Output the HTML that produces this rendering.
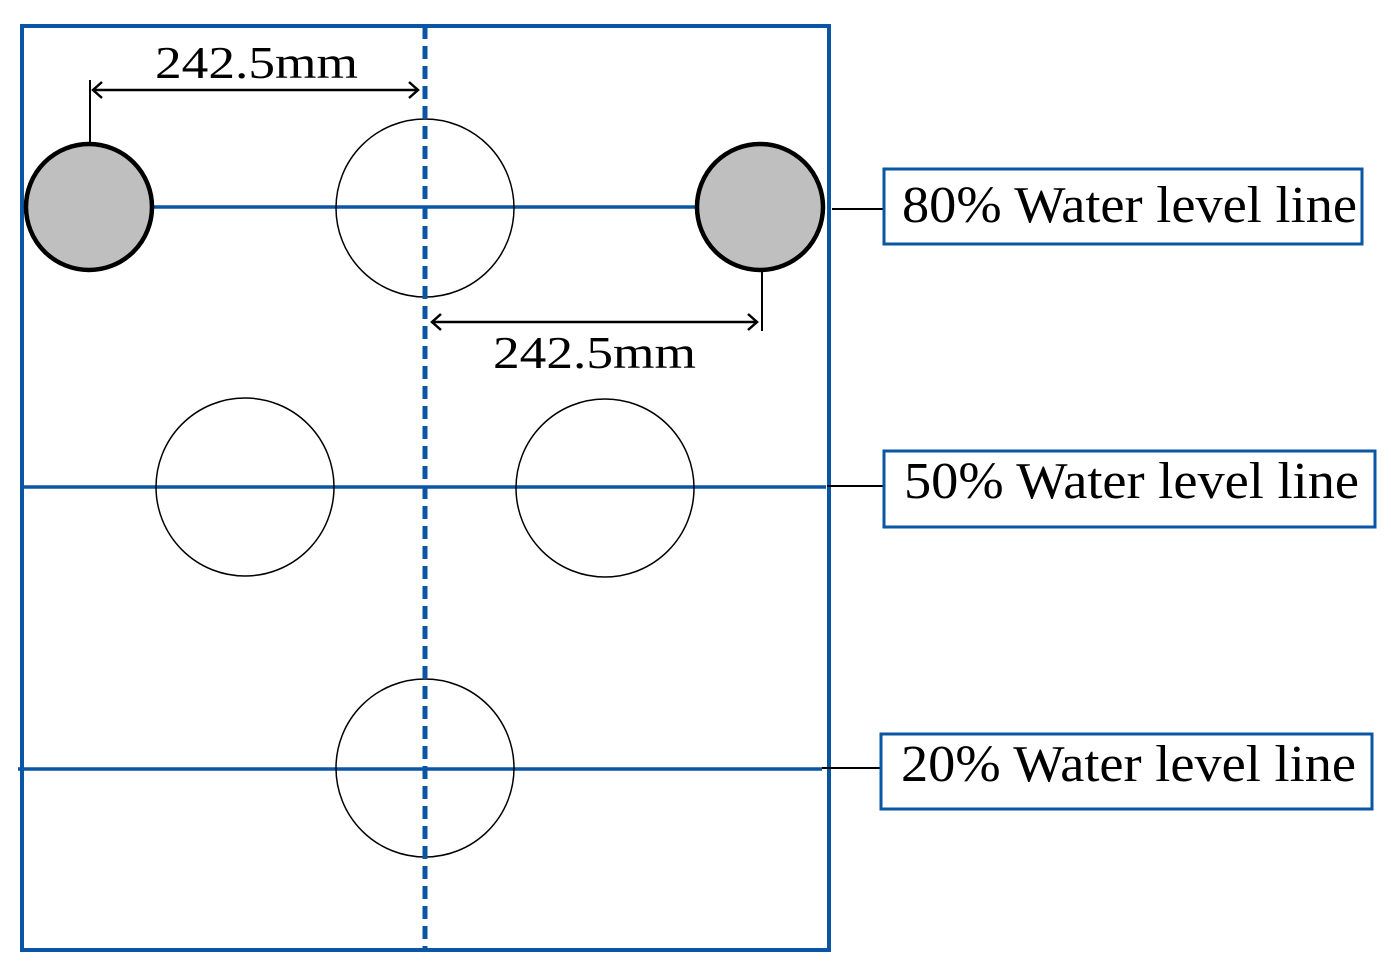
<!DOCTYPE html>
<html><head><meta charset="utf-8"><style>
html,body{margin:0;padding:0;background:#fff;}
svg{display:block;}
text{font-family:"Liberation Serif","Times New Roman",serif;fill:#000;}
</style></head><body>
<svg width="1391" height="975" viewBox="0 0 1391 975" xmlns="http://www.w3.org/2000/svg">
<rect x="22" y="26" width="807" height="924" fill="none" stroke="#0B55A5" stroke-width="4"/>
<line x1="152" y1="207" x2="697" y2="207" stroke="#0B55A5" stroke-width="3.5"/>
<line x1="22" y1="487" x2="826" y2="487" stroke="#0B55A5" stroke-width="3.5"/>
<line x1="18" y1="769" x2="822" y2="769" stroke="#0B55A5" stroke-width="3.5"/>
<circle cx="425" cy="208" r="89" fill="none" stroke="#000" stroke-width="1.5"/>
<circle cx="245" cy="487" r="89" fill="none" stroke="#000" stroke-width="1.5"/>
<circle cx="605" cy="488" r="89" fill="none" stroke="#000" stroke-width="1.5"/>
<circle cx="425" cy="768" r="89" fill="none" stroke="#000" stroke-width="1.5"/>
<line x1="425" y1="26" x2="425" y2="950" stroke="#0B55A5" stroke-width="5" stroke-dasharray="13,7"/>
<circle cx="89" cy="207" r="63" fill="#bfbfbf" stroke="#000" stroke-width="4.5"/>
<circle cx="760" cy="207" r="63" fill="#bfbfbf" stroke="#000" stroke-width="4.5"/>
<line x1="90" y1="80" x2="90" y2="143" stroke="#000" stroke-width="2"/>
<line x1="93" y1="90" x2="418" y2="90" stroke="#000" stroke-width="2.5"/>
<polyline points="102,82 93,90 102,98" fill="none" stroke="#000" stroke-width="2.5"/>
<polyline points="409,82 418,90 409,98" fill="none" stroke="#000" stroke-width="2.5"/>
<text x="155" y="78" font-size="46" textLength="203" lengthAdjust="spacingAndGlyphs">242.5mm</text>
<line x1="762" y1="270" x2="762" y2="331" stroke="#000" stroke-width="2"/>
<line x1="432" y1="322" x2="757" y2="322" stroke="#000" stroke-width="2.5"/>
<polyline points="441,314 432,322 441,330" fill="none" stroke="#000" stroke-width="2.5"/>
<polyline points="748,314 757,322 748,330" fill="none" stroke="#000" stroke-width="2.5"/>
<text x="493" y="368" font-size="46" textLength="203" lengthAdjust="spacingAndGlyphs">242.5mm</text>
<line x1="832" y1="209" x2="884" y2="209" stroke="#000" stroke-width="2"/>
<line x1="827" y1="486" x2="884" y2="486" stroke="#000" stroke-width="2"/>
<line x1="822" y1="768" x2="881" y2="768" stroke="#000" stroke-width="2"/>
<rect x="884" y="169" width="478" height="75" fill="#fff" stroke="#0B55A5" stroke-width="3"/>
<text x="902" y="222" font-size="52" textLength="455" lengthAdjust="spacingAndGlyphs">80% Water level line</text>
<rect x="884" y="451" width="491" height="76" fill="#fff" stroke="#0B55A5" stroke-width="3"/>
<text x="904" y="498" font-size="52" textLength="455" lengthAdjust="spacingAndGlyphs">50% Water level line</text>
<rect x="881" y="734" width="491" height="75" fill="#fff" stroke="#0B55A5" stroke-width="3"/>
<text x="901" y="781" font-size="52" textLength="455" lengthAdjust="spacingAndGlyphs">20% Water level line</text>
</svg>
</body></html>
